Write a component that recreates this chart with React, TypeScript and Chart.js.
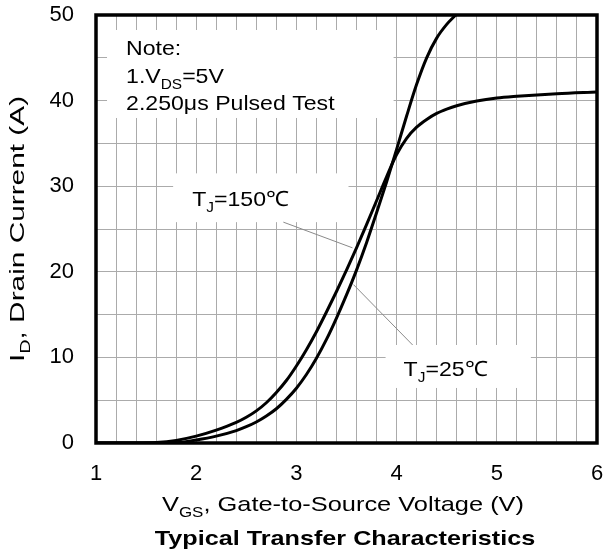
import React, { useEffect, useRef } from "react";
import { Chart, registerables } from "chart.js";
Chart.register(...registerables);

// ---- data ----
const vgs150 = [1.0, 1.4, 1.6, 1.8, 2.0, 2.2, 2.4, 2.5, 2.6, 2.7, 2.8, 2.9, 3.0, 3.1, 3.2, 3.3, 3.4, 3.5, 3.6, 3.7, 3.8, 3.9, 4.0, 4.1, 4.2, 4.3, 4.4, 4.5, 4.6, 4.8, 5.0, 5.2, 5.6, 6.0];
const id150 = [0, 0, 0.05, 0.3, 0.8, 1.5, 2.4, 3.0, 3.75, 4.7, 5.9, 7.3, 9.0, 10.9, 13.0, 15.3, 17.7, 20.2, 22.8, 25.5, 28.3, 31.1, 33.7, 35.6, 36.9, 37.8, 38.5, 39.0, 39.4, 39.95, 40.3, 40.5, 40.8, 41.0];
const vgs25 = [1.0, 1.6, 1.8, 2.0, 2.2, 2.4, 2.5, 2.6, 2.7, 2.8, 2.9, 3.0, 3.1, 3.2, 3.3, 3.4, 3.5, 3.6, 3.7, 3.8, 3.9, 4.0, 4.1, 4.2, 4.3, 4.4, 4.5, 4.59];
const id25 = [0, 0, 0.03, 0.35, 0.8, 1.45, 1.9, 2.45, 3.15, 4.0, 5.1, 6.4, 8.0, 9.9, 12.1, 14.6, 17.3, 20.2, 23.4, 26.9, 30.5, 34.3, 38.2, 41.9, 45.0, 47.3, 48.9, 50.0];

const xTickValues = [1, 2, 3, 4, 5, 6];
const yTickValues = [0, 10, 20, 30, 40, 50];

// annotation geometry in data units
const whiteBoxes = [
  [1.11, 3.97, 48.25, 37.97],
  [1.77, 3.52, 31.5, 25.8],
  [3.89, 5.34, 11.45, 6.43],
];
const leaders = [
  [2.87, 25.8, 3.56, 22.8],
  [3.57, 18.5, 4.16, 11.45],
];
const noteLines = [
  { v: 1.3, i: 45.33, parts: [{ t: "Note:" }] },
  { v: 1.3, i: 42.06, parts: [{ t: "1.V" }, { t: "DS", sub: true }, { t: "=5V" }] },
  { v: 1.3, i: 38.9, parts: [{ t: "2.250μs Pulsed Test" }] },
  { v: 1.96, i: 27.69, parts: [{ t: "T" }, { t: "J", sub: true }, { t: "=150℃" }] },
  { v: 4.07, i: 7.83, parts: [{ t: "T" }, { t: "J", sub: true }, { t: "=25℃" }] },
];

const FONT = '"Liberation Sans", Arial, sans-serif';

type Part = { t: string; sub?: boolean };

function drawRich(ctx: CanvasRenderingContext2D, parts: Part[], x: number, y: number, align: "left" | "center", size: number, sx = 1, bold = false) {
  const main = `${bold ? "bold " : ""}${size}px ${FONT}`;
  const sub = `${bold ? "bold " : ""}${Math.round(size * 0.68)}px ${FONT}`;
  let total = 0;
  const widths = parts.map((p) => {
    ctx.font = p.sub ? sub : main;
    const w = ctx.measureText(p.t).width;
    total += w;
    return w;
  });
  ctx.save();
  const x0 = align === "center" ? x - (total * sx) / 2 : x;
  ctx.translate(x0, y);
  ctx.scale(sx, 1);
  ctx.textBaseline = "alphabetic";
  ctx.textAlign = "left";
  let cx = 0;
  parts.forEach((p, k) => {
    ctx.font = p.sub ? sub : main;
    ctx.fillText(p.t, cx, p.sub ? size * 0.3 : 0);
    cx += widths[k];
  });
  ctx.restore();
}

const annotPlugin = {
  id: "annot",
  beforeDatasetsDraw(chart: any) {
    const { ctx, scales } = chart;
    const x = scales.x, y = scales.y;
    ctx.save();
    ctx.fillStyle = "#ffffff";
    for (const b of whiteBoxes) {
      const x0 = x.getPixelForValue(b[0]), x1 = x.getPixelForValue(b[1]);
      const y0 = y.getPixelForValue(b[2]), y1 = y.getPixelForValue(b[3]);
      ctx.fillRect(Math.min(x0, x1), Math.min(y0, y1), Math.abs(x1 - x0), Math.abs(y1 - y0));
    }
    ctx.strokeStyle = "#8a8a8a";
    ctx.lineWidth = 1;
    for (const l of leaders) {
      ctx.beginPath();
      ctx.moveTo(x.getPixelForValue(l[0]), y.getPixelForValue(l[1]));
      ctx.lineTo(x.getPixelForValue(l[2]), y.getPixelForValue(l[3]));
      ctx.stroke();
    }
    ctx.fillStyle = "#000";
    for (const n of noteLines) {
      drawRich(ctx, n.parts, x.getPixelForValue(n.v), y.getPixelForValue(n.i), "left", 21, 1.1);
    }
    ctx.restore();
  },
  afterDraw(chart: any) {
    const { ctx, chartArea } = chart;
    const { left, right, top, bottom } = chartArea;
    ctx.save();
    ctx.strokeStyle = "#000";
    ctx.lineWidth = 3.5;
    ctx.strokeRect(left, top, right - left, bottom - top);
    ctx.fillStyle = "#000";
    // x title
    drawRich(ctx, [{ t: "V" }, { t: "GS", sub: true }, { t: ", Gate-to-Source Voltage (V)" }], 343, 510.5, "center", 21, 1.21);
    // chart title
    drawRich(ctx, [{ t: "Typical Transfer Characteristics" }], 345, 544.5, "center", 21, 1.2, true);
    // y title
    ctx.translate(23.5, (top + bottom) / 2);
    ctx.rotate(-Math.PI / 2);
    drawRich(ctx, [{ t: "I" }, { t: "D", sub: true }, { t: ", Drain Current (A)" }], 0, 0, "center", 21, 1.42);
    ctx.restore();
  },
};

function zeroPad(s: any) {
  s.paddingTop = 0;
  s.paddingBottom = 0;
  s.paddingLeft = 0;
  s.paddingRight = 0;
}

export default function App() {
  const ref = useRef<HTMLCanvasElement | null>(null);
  useEffect(() => {
    document.body.style.margin = "0";
    const canvas = ref.current!;
    const chart = new Chart(canvas, {
      type: "scatter",
      data: {
        datasets: [
          {
            label: "TJ=150",
            data: vgs150.map((v, i) => ({ x: v, y: id150[i] })),
            showLine: true,
            borderColor: "#000",
            borderWidth: 3,
            pointRadius: 0,
            cubicInterpolationMode: "monotone",
          },
          {
            label: "TJ=25",
            data: vgs25.map((v, i) => ({ x: v, y: id25[i] })),
            showLine: true,
            borderColor: "#000",
            borderWidth: 3,
            pointRadius: 0,
            cubicInterpolationMode: "monotone",
          },
        ],
      },
      options: {
        animation: false,
        responsive: true,
        maintainAspectRatio: false,
        layout: { padding: { top: 15, right: 8, left: 0, bottom: 0 } },
        plugins: { legend: { display: false }, tooltip: { enabled: false }, title: { display: false } },
        scales: {
          x: {
            type: "linear",
            min: 1,
            max: 6,
            afterFit: (s: any) => { s.height = 116; zeroPad(s); },
            ticks: {
              stepSize: 0.2,
              autoSkip: false,
              maxRotation: 0,
              padding: 18,
              color: "#000",
              font: { family: FONT, size: 22 },
              callback: (val: any) => {
                const v = Number(val);
                const r = Math.round(v);
                return Math.abs(v - r) < 1e-6 && xTickValues.includes(r) ? String(r) : "";
              },
            },
            grid: { color: "#ababab", lineWidth: 1, drawTicks: false },
            border: { display: false },
          },
          y: {
            type: "linear",
            min: 0,
            max: 50,
            afterFit: (s: any) => { s.width = 96; zeroPad(s); },
            ticks: {
              stepSize: 5,
              autoSkip: false,
              padding: 22,
              color: "#000",
              font: { family: FONT, size: 22 },
              callback: (val: any) => {
                const v = Math.round(Number(val));
                return yTickValues.includes(v) ? String(v) : "";
              },
            },
            grid: { color: "#ababab", lineWidth: 1, drawTicks: false },
            border: { display: false },
          },
        },
      } as any,
      plugins: [annotPlugin],
    });
    return () => chart.destroy();
  }, []);
  return (
    <div style={{ width: 605, height: 559, position: "relative", background: "#fff" }}>
      <canvas ref={ref} />
    </div>
  );
}
